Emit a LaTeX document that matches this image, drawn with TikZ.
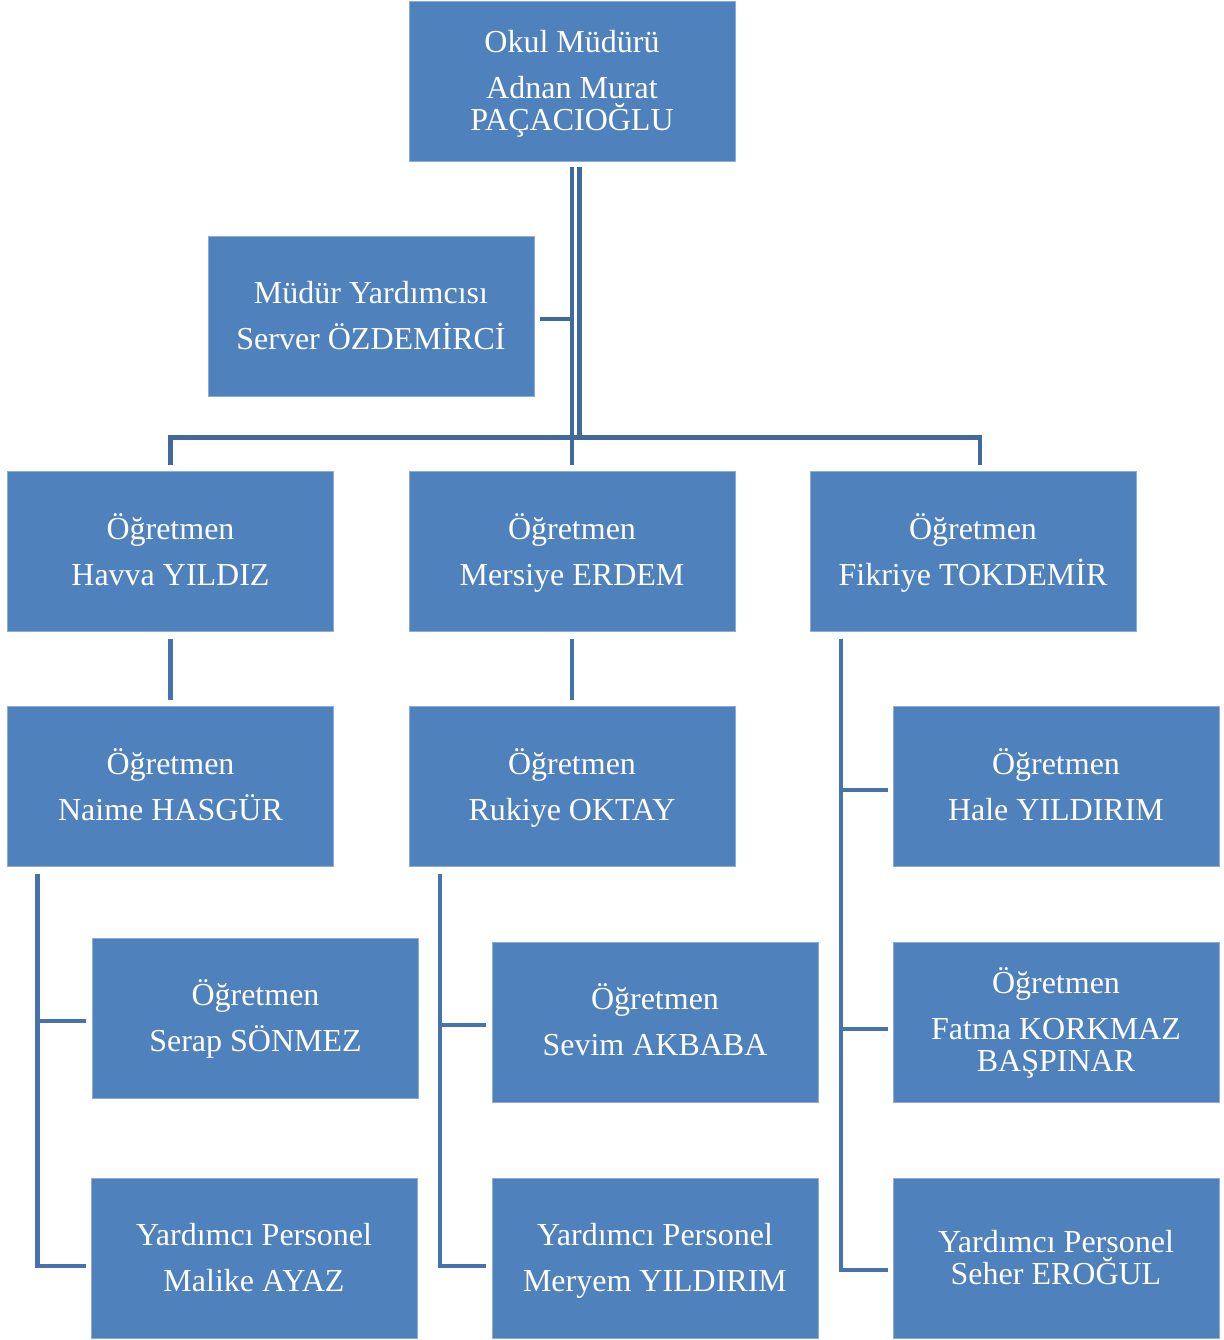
\documentclass[tikz,border=0pt]{standalone}
\usepackage{fontspec}
\setmainfont{Liberation Serif}
\usetikzlibrary{calc}
\definecolor{boxfill}{HTML}{4F81BD}
\definecolor{boxline}{HTML}{8EACD6}
\definecolor{topconn}{HTML}{3F6A9B}
\definecolor{lowconn}{HTML}{4673AE}
\newcommand\boxstrut{\vrule height 23pt depth 7pt width 0pt\relax}
\lineskiplimit-100pt
\tikzset{
  box/.style={fill=boxfill, draw=boxline, line width=0.6pt, text=white,
    minimum width=244.5pt, minimum height=120pt, inner sep=0pt, outer sep=0pt,
    align=center, font=\fontsize{24pt}{24pt}\selectfont},
  topline/.style={draw=topconn, line width=3.6pt},
  lowline/.style={draw=lowconn, line width=3.6pt},
}
\begin{document}
\begin{tikzpicture}[x=0.75pt,y=-0.75pt]
\useasboundingbox (0,0) rectangle (1224,1340);
% boxes
\node[box] (top) at (572,81) {\boxstrut Okul Müdürü\\[10.5pt]Adnan Murat\\PAÇACIOĞLU\boxstrut};
\node[box] (myard) at (371,316) {\boxstrut Müdür Yardımcısı\\[10.5pt]Server ÖZDEMİRCİ\boxstrut};
\node[box] (havva) at (170.5,551.5) {\boxstrut Öğretmen\\[10.5pt]Havva YILDIZ\boxstrut};
\node[box] (mersiye) at (572,551.5) {\boxstrut Öğretmen\\[10.5pt]Mersiye ERDEM\boxstrut};
\node[box] (fikriye) at (973,551.5) {\boxstrut Öğretmen\\[10.5pt]Fikriye TOKDEMİR\boxstrut};
\node[box] (naime) at (170.5,786.5) {\boxstrut Öğretmen\\[10.5pt]Naime HASGÜR\boxstrut};
\node[box] (rukiye) at (572,786.5) {\boxstrut Öğretmen\\[10.5pt]Rukiye OKTAY\boxstrut};
\node[box] (hale) at (1056,786.5) {\boxstrut Öğretmen\\[10.5pt]Hale YILDIRIM\boxstrut};
\node[box] (serap) at (255.5,1018) {\boxstrut Öğretmen\\[10.5pt]Serap SÖNMEZ\boxstrut};
\node[box] (sevim) at (655,1022) {\boxstrut Öğretmen\\[10.5pt]Sevim AKBABA\boxstrut};
\node[box] (fatma) at (1056,1022) {\boxstrut Öğretmen\\[10.5pt]Fatma KORKMAZ\\BAŞPINAR\boxstrut};
\node[box] (malike) at (254,1258) {\boxstrut Yardımcı Personel\\[10.5pt]Malike AYAZ\boxstrut};
\node[box] (meryem) at (655,1258) {\boxstrut Yardımcı Personel\\[10.5pt]Meryem YILDIRIM\boxstrut};
\node[box] (seher) at (1056,1258) {\boxstrut Yardımcı Personel\\Seher EROĞUL\boxstrut};
% top structure
\coordinate (dl1) at ($(top.south)+(0,6)$);
\coordinate (dl2) at ($(top.south)+(7.5,6)$);
\coordinate (busL) at ($(havva.north)+(0,-34)$);
\coordinate (busR) at ($(fikriye.north)+(7,-34)$);
\draw[topline] (dl1) -- ($(mersiye.north)+(0,-7)$);
\draw[topline] (dl2) -- (dl2 |- busL);
\draw[topline] ($(havva.north)+(0,-7)$) -- (busL) -- (busR) -- ($(fikriye.north)+(7,-7)$);
\coordinate (my) at ($(myard.east)+(6,3)$);
\draw[topline] (my) -- (my -| dl1);
% lower connectors
\draw[lowline] ($(havva.south)+(0,7)$) -- ($(naime.north)+(0,-7)$);
\draw[lowline] ($(mersiye.south)+(0,7)$) -- ($(rukiye.north)+(0,-7)$);
% Naime group
\coordinate (nv) at ($(naime.south west)+(30,7)$);
\draw[lowline] (nv) -- (nv |- {$(malike.west)+(0,8)$}) -- ($(malike.west)+(-5,8)$);
\draw[lowline] (nv |- {$(serap.west)+(0,3)$}) -- ($(serap.west)+(-7,3)$);
% Rukiye group
\coordinate (rv) at ($(rukiye.south west)+(31,7)$);
\draw[lowline] (rv) -- (rv |- {$(meryem.west)+(0,8)$}) -- ($(meryem.west)+(-6,8)$);
\draw[lowline] (rv |- {$(sevim.west)+(0,3)$}) -- ($(sevim.west)+(-6,3)$);
% Fikriye group
\coordinate (fv) at ($(fikriye.south west)+(31,7)$);
\draw[lowline] (fv) -- (fv |- {$(seher.west)+(0,12)$}) -- ($(seher.west)+(-5,12)$);
\draw[lowline] (fv |- {$(hale.west)+(0,3.5)$}) -- ($(hale.west)+(-5,3.5)$);
\draw[lowline] (fv |- {$(fatma.west)+(0,7)$}) -- ($(fatma.west)+(-5,7)$);
\end{tikzpicture}
\end{document}
